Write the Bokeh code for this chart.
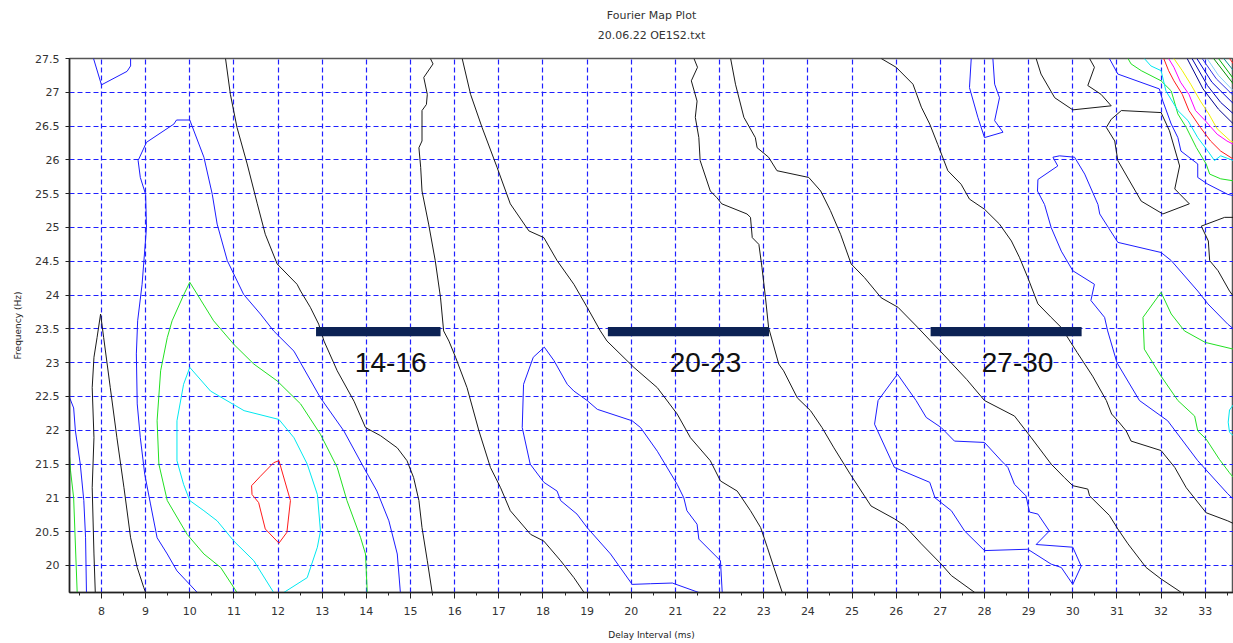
from bokeh.plotting import figure
from bokeh.models import FixedTicker, Range1d, CustomJSTickFormatter, Title
from bokeh.embed import file_html
from bokeh.resources import INLINE
from bokeh.core.properties import value

# ---------------- axis ticks ----------------
x_ticks = [8, 9, 10, 11, 12, 13, 14, 15, 16, 17, 18, 19, 20, 21, 22, 23, 24, 25,
           26, 27, 28, 29, 30, 31, 32, 33]
x_minor = [7.5, 8.5, 9.5, 10.5, 11.5, 12.5, 13.5, 14.5, 15.5, 16.5, 17.5, 18.5, 19.5,
           20.5, 21.5, 22.5, 23.5, 24.5, 25.5, 26.5, 27.5, 28.5, 29.5, 30.5, 31.5, 32.5, 33.5]
y_ticks = [20, 20.5, 21, 21.5, 22, 22.5, 23, 23.5, 24, 24.5, 25, 25.5, 26, 26.5, 27, 27.5]

# ---------------- contour lines (x = delay ms, y = frequency Hz) ----------------
# black (level 1)
blk1_x = [7.86, 7.83, 7.79, 7.83, 7.79, 7.83, 7.90, 7.98, 8.05, 8.20, 8.35, 8.51, 8.66, 8.81, 8.96, 9.0]
blk1_y = [19.6, 20.17, 21.15, 21.89, 22.63, 23.08, 23.37, 23.72, 23.37, 22.63, 21.89, 21.15, 20.41, 19.97, 19.67, 19.6]
blk2_x = [10.81, 10.92, 11.07, 11.30, 11.53, 11.71, 11.98, 12.43, 12.51, 12.73, 12.92, 13.04, 13.34,
          13.72, 13.98, 14.32, 14.70, 14.92, 15.07, 15.19, 15.26, 15.38, 15.49]
blk2_y = [27.5, 26.97, 26.48, 25.94, 25.35, 24.90, 24.46, 24.16, 24.06, 23.82, 23.57, 23.32, 22.88,
          22.43, 22.04, 21.92, 21.74, 21.55, 21.30, 20.96, 20.56, 20.07, 19.6]
blk3_x = [15.45, 15.51, 15.30, 15.38, 15.36, 15.26, 15.26, 15.19, 15.23, 15.26, 15.41, 15.56, 15.68,
          15.75, 15.87, 16.02, 16.28, 16.55, 16.81, 17.04, 17.26, 17.72, 18.02, 18.40, 18.70, 18.93]
blk3_y = [27.5, 27.42, 27.22, 26.97, 26.82, 26.73, 26.28, 26.18, 25.89, 25.54, 25.05, 24.51, 23.96,
          23.47, 23.32, 23.08, 22.63, 21.99, 21.45, 21.15, 20.81, 20.46, 20.36, 20.07, 19.82, 19.6]
blk4_x = [16.17, 16.36, 16.62, 16.96, 17.26, 17.68, 18.02, 18.32, 18.70, 19.0, 19.30, 19.45, 20.06,
          20.59, 21.04, 21.34, 21.79, 22.02, 22.40, 22.70, 22.93, 23.08, 23.23, 23.42]
blk4_y = [27.5, 26.97, 26.48, 25.89, 25.35, 24.95, 24.85, 24.51, 24.16, 23.82, 23.47, 23.32, 22.93,
          22.63, 22.24, 21.89, 21.55, 21.25, 21.10, 20.81, 20.56, 20.27, 19.97, 19.6]
blk5_x = [21.42, 21.50, 21.36, 21.49, 21.45, 21.53, 21.56, 21.79, 21.94, 22.05, 22.62, 22.70, 22.74,
          22.89, 22.96, 23.04, 23.11, 23.34, 23.45, 23.76, 24.06, 24.32, 24.59, 24.96, 25.43, 25.96,
          26.19, 26.57, 27.02, 27.25, 27.78]
blk5_y = [27.5, 27.37, 27.17, 26.87, 26.63, 26.33, 25.99, 25.54, 25.44, 25.35, 25.20, 25.15, 24.85,
          24.75, 24.41, 23.96, 23.52, 22.98, 22.88, 22.48, 22.29, 22.04, 21.74, 21.35, 20.88, 20.69,
          20.59, 20.32, 20.02, 19.85, 19.6]
blk6_x = [22.25, 22.36, 22.55, 22.81, 22.85, 23.11, 23.30, 24.02, 24.29, 24.51, 24.74, 24.98, 25.28,
          25.66, 26.04, 26.49, 27.1, 27.6, 28.0, 28.68, 29.06, 29.51, 29.81, 30.0, 30.34, 30.38, 30.83,
          31.02, 31.25, 31.66, 32.0, 32.46]
blk6_y = [27.5, 27.12, 26.63, 26.33, 26.18, 26.04, 25.84, 25.74, 25.54, 25.25, 24.90, 24.46, 24.26,
          23.96, 23.82, 23.52, 23.1, 22.75, 22.44, 22.21, 21.89, 21.5, 21.30, 21.18, 21.13, 21.03, 20.74,
          20.54, 20.32, 19.97, 19.80, 19.6]
blk7_x = [25.66, 26.0, 26.38, 26.57, 26.76, 26.94, 27.17, 27.47, 27.66, 28.0, 28.34, 28.61, 28.79,
          28.98, 29.21, 29.51, 29.74, 30.1, 30.45, 30.76, 30.88, 31.02, 31.21, 31.32, 32.0, 32.31, 32.57,
          33.02, 33.51, 33.64]
blk7_y = [27.5, 27.37, 27.12, 26.78, 26.53, 26.23, 25.84, 25.64, 25.42, 25.27, 25.05, 24.80, 24.56,
          24.26, 23.87, 23.67, 23.52, 23.15, 22.8, 22.44, 22.24, 22.14, 21.99, 21.84, 21.70, 21.45, 21.15,
          20.78, 20.66, 20.62]
blk8_x = [29.17, 29.28, 29.59, 30.0, 30.87, 30.64, 30.34, 30.49, 30.38]
blk8_y = [27.5, 27.27, 26.92, 26.74, 26.80, 26.97, 27.10, 27.37, 27.5]
blk9_x = [31.10, 32.0, 32.19, 32.42, 32.31, 32.64, 32.04, 31.55, 31.02, 30.95, 30.76, 30.87, 31.10]
blk9_y = [26.73, 26.70, 26.43, 25.91, 25.57, 25.35, 25.20, 25.39, 25.99, 26.28, 26.48, 26.6, 26.73]
blk10_x = [33.64, 33.44, 32.91, 33.07, 33.10, 33.29, 33.55, 33.64]
blk10_y = [25.15, 25.15, 25.02, 24.80, 24.51, 24.36, 24.06, 23.98]

# blue (level 2)
blu1_x = [7.82, 8.0, 8.58, 8.66, 8.66]
blu1_y = [27.5, 27.11, 27.31, 27.39, 27.5]
blu2_x = [7.28, 7.37, 7.41, 7.52, 7.60, 7.64, 7.66]
blu2_y = [22.48, 22.33, 21.99, 21.5, 20.96, 20.41, 19.6]
blu3_x = [10.17, 9.71, 9.49, 9.26, 9.11, 8.98, 8.88, 8.81, 8.79, 8.82, 8.92, 9.02, 9.0, 8.88, 8.83,
          9.02, 9.64, 9.70, 10.0, 10.32, 10.51, 10.62, 10.85, 11.22, 11.6, 11.9, 12.36, 12.96, 13.49,
          13.94, 14.24, 14.51, 14.70, 14.77]
blu3_y = [19.6, 19.92, 20.17, 20.41, 20.91, 21.35, 21.89, 22.39, 23.13, 23.62, 24.16, 25.0, 25.49,
          25.74, 25.99, 26.26, 26.53, 26.59, 26.59, 26.04, 25.49, 25.05, 24.51, 24.01, 23.72, 23.47,
          23.17, 22.48, 21.99, 21.45, 21.10, 20.66, 20.17, 19.6]
blu4_x = [21.53, 20.93, 20.44, 20.02, 19.53, 19.0, 18.77, 18.40, 18.32, 18.02, 17.71, 17.53, 17.56,
          17.78, 18.03, 18.25, 18.55, 18.70, 19.0, 19.23, 20.02, 20.21, 20.59, 21.04, 21.19, 21.26,
          21.49, 21.53, 22.02, 22.06]
blu4_y = [19.6, 19.74, 19.73, 19.72, 20.17, 20.56, 20.76, 20.96, 21.10, 21.23, 21.50, 22.04, 22.68,
          23.08, 23.23, 23.03, 22.68, 22.58, 22.44, 22.31, 22.14, 22.04, 21.69, 21.2, 21.0, 20.81,
          20.61, 20.39, 20.07, 19.6]
blu5_x = [27.70, 27.66, 27.85, 28.0, 28.42, 28.23, 28.34, 28.23, 28.19]
blu5_y = [27.5, 27.07, 26.63, 26.33, 26.41, 26.58, 26.92, 27.12, 27.5]
blu6_x = [26.03, 25.59, 25.51, 25.96, 26.76, 26.88, 27.25, 27.55, 28.0, 28.98, 29.51, 29.74, 30.0,
          30.19, 30.0, 29.17, 29.47, 29.21, 29.02, 28.94, 28.68, 28.53, 28.38, 28.0, 27.32, 27.02,
          26.68, 26.45, 26.03]
blu6_y = [22.83, 22.44, 22.09, 21.45, 21.23, 21.0, 20.81, 20.51, 20.22, 20.24, 20.02, 19.97, 19.72,
          19.99, 20.27, 20.31, 20.51, 20.76, 20.79, 21.03, 21.20, 21.45, 21.55, 21.82, 21.84, 22.04,
          22.19, 22.44, 22.83]
blu7_x = [33.64, 33.51, 32.83, 32.15, 31.51, 31.0, 30.79, 30.72, 30.41, 30.49, 30.0, 29.74, 29.51,
          29.36, 29.2, 29.21, 29.66, 29.55, 29.70, 30.04, 30.27, 30.57, 30.61, 31.02, 32.0, 32.23,
          32.83, 33.06, 33.51, 33.64]
blu7_y = [20.98, 21.06, 21.55, 22.14, 22.44, 23.0, 23.47, 23.67, 23.92, 24.16, 24.36, 24.65, 25.0,
          25.34, 25.54, 25.71, 25.91, 26.04, 26.06, 26.04, 25.79, 25.34, 25.2, 24.78, 24.63, 24.51,
          24.06, 23.87, 23.57, 23.5]
blu8_x = [30.83, 31.02, 31.96, 32.04, 32.23, 32.38, 32.45, 32.83, 32.83, 33.06, 33.51, 33.64]
blu8_y = [27.5, 27.27, 27.05, 26.87, 26.53, 26.33, 26.13, 25.94, 25.74, 25.64, 25.49, 25.47]

# green (level 3)
grn1_x = [7.28, 7.30, 7.37, 7.45]
grn1_y = [21.6, 21.40, 21.0, 19.6]
grn2_x = [11.07, 10.70, 10.32, 9.94, 9.49, 9.30, 9.26, 9.34, 9.49, 9.60, 9.86, 10.0, 10.54, 11.0,
          11.45, 11.98, 12.51, 12.96, 13.34, 13.56, 13.87, 13.98, 14.02]
grn2_y = [19.6, 19.97, 20.17, 20.46, 20.96, 21.50, 22.14, 22.88, 23.37, 23.62, 24.0, 24.19, 23.62,
          23.27, 22.98, 22.73, 22.39, 21.94, 21.45, 20.96, 20.41, 20.17, 19.6]
grn3_x = [31.25, 31.32, 31.55, 32.0, 32.23, 32.38, 32.57, 32.80, 33.02, 33.10, 33.35, 33.64]
grn3_y = [27.5, 27.42, 27.32, 27.17, 27.02, 26.68, 26.48, 26.18, 25.94, 25.79, 25.72, 25.69]
grn4_x = [33.64, 33.0, 32.53, 32.23, 32.0, 31.59, 31.62, 32.0, 32.38, 32.76, 32.83, 33.02, 33.32,
          33.55, 33.64]
grn4_y = [23.2, 23.3, 23.47, 23.72, 24.04, 23.67, 23.2, 22.8, 22.44, 22.21, 21.99, 21.87, 21.57,
          21.37, 21.3]

# cyan (level 4)
cyn1_x = [11.90, 11.45, 11.0, 10.62, 10.32, 10.0, 9.86, 9.71, 9.71, 9.86, 10.0, 10.47, 11.23, 12.02,
          12.36, 12.66, 12.89, 12.96, 12.89, 12.66, 12.13]
cyn1_y = [19.6, 20.07, 20.36, 20.66, 20.81, 20.96, 21.20, 21.55, 22.14, 22.68, 22.93, 22.58, 22.29,
          22.16, 21.89, 21.50, 21.05, 20.51, 20.27, 19.82, 19.6]
cyn2_x = [31.62, 31.77, 32.0, 32.11, 32.38, 32.61, 32.83, 33.06, 33.21, 33.35, 33.64]
cyn2_y = [27.5, 27.39, 27.32, 27.02, 26.73, 26.58, 26.33, 26.13, 25.99, 26.06, 25.99]
cyn3_x = [33.64, 33.55, 33.52, 33.55, 33.64]
cyn3_y = [22.38, 22.3, 22.12, 21.97, 21.92]

# red (level 5)
red1_x = [11.90, 12.02, 12.28, 12.2, 12.02, 11.71, 11.56, 11.41, 11.40, 11.60, 11.90]
red1_y = [21.52, 21.55, 20.96, 20.49, 20.33, 20.54, 20.93, 21.05, 21.18, 21.32, 21.52]
red2_x = [32.06, 32.17, 32.29, 32.48, 32.63, 32.89, 33.12, 33.35, 33.64]
red2_y = [27.5, 27.32, 27.17, 26.97, 26.73, 26.48, 26.28, 26.13, 26.01]

# magenta (level 6), yellow (level 7)
mag1_x = [32.17, 32.29, 32.44, 32.63, 32.78, 33.0, 33.27, 33.49, 33.64]
mag1_y = [27.5, 27.37, 27.15, 26.97, 26.73, 26.58, 26.38, 26.28, 26.23]
yel1_x = [32.29, 32.48, 32.67, 32.89, 33.08, 33.27, 33.57, 33.64]
yel1_y = [27.5, 27.32, 27.12, 26.87, 26.68, 26.46, 26.28, 26.26]

# higher levels crowded in the top-right corner
nv1_x = [32.59, 32.95, 33.3, 33.64]
nv1_y = [27.5, 27.05, 26.75, 26.53]
nv2_x = [32.70, 33.05, 33.35, 33.64]
nv2_y = [27.5, 27.1, 26.85, 26.68]
nv3_x = [32.81, 33.15, 33.64]
nv3_y = [27.5, 27.15, 26.83]
nv4_x = [32.93, 33.25, 33.64]
nv4_y = [27.5, 27.2, 26.95]
lb1_x = [33.04, 33.3, 33.64]
lb1_y = [27.5, 27.25, 27.02]
dg1_x = [33.19, 33.64]
dg1_y = [27.5, 27.12]
dg2_x = [33.30, 33.64]
dg2_y = [27.5, 27.2]
tl1_x = [33.42, 33.64]
tl1_y = [27.5, 27.32]
rd3_x = [33.55, 33.64]
rd3_y = [27.5, 27.42]

# ---------------- annotations ----------------
bar_left = [12.86, 19.47, 26.78]
bar_right = [15.68, 23.12, 30.2]
bar_y = [23.46, 23.46, 23.46]
label_x = [14.55, 21.68, 28.75]
label_y = [23.0, 23.0, 23.0]
label_text = ["14-16", "20-23", "27-30"]
title_main = "Fourier Map Plot"
title_sub = "20.06.22 OE1S2.txt"

FONT = "DejaVu Sans"

p = figure(width=1233, height=643, x_range=Range1d(7.276, 33.64), y_range=Range1d(19.6, 27.5),
           output_backend="svg", toolbar_location=None, title=None,
           min_border_left=69, min_border_right=0, min_border_top=58, min_border_bottom=51)
p.background_fill_color = "white"
p.border_fill_color = "white"
p.outline_line_color = "#555555"
p.outline_line_width = 1.5

# two-line title above the frame (a blank spacer title sits next to the frame)
p.add_layout(Title(text=" ", align="center", text_font=FONT, text_font_size="11px",
                   standoff=0), "above")
p.add_layout(Title(text=title_sub, align="center", text_font=FONT, text_font_size="11px",
                   text_font_style="normal", text_color="#333333", standoff=4), "above")
p.add_layout(Title(text=title_main, align="center", text_font=FONT, text_font_size="11px",
                   text_font_style="normal", text_color="#333333", standoff=6), "above")

p.xaxis.ticker = FixedTicker(ticks=x_ticks, minor_ticks=x_minor)
p.yaxis.ticker = FixedTicker(ticks=y_ticks, minor_ticks=[])
p.yaxis.formatter = CustomJSTickFormatter(code="return tick.toString();")
for ax in (p.xaxis[0], p.yaxis[0]):
    ax.axis_line_color = "#222222"
    ax.axis_line_width = 1.5
    ax.major_tick_line_color = "#222222"
    ax.minor_tick_line_color = "#222222"
    ax.major_tick_in = 0
    ax.minor_tick_in = 0
    ax.major_label_text_font = FONT
    ax.major_label_text_font_size = "11px"
    ax.major_label_text_color = "#333333"
    ax.axis_label_text_font = FONT
    ax.axis_label_text_font_size = "9px"
    ax.axis_label_text_font_style = "normal"
    ax.axis_label_text_color = "#222222"
p.xaxis.major_tick_out = 6
p.xaxis.minor_tick_out = 3
p.xaxis.major_label_standoff = 8
p.xaxis.axis_label = "Delay Interval (ms)"
p.xaxis.axis_label_standoff = 12
p.yaxis.major_tick_out = 4
p.yaxis.minor_tick_out = 0
p.yaxis.major_label_standoff = 6
p.yaxis.axis_label = "Frequency (Hz)"
p.yaxis.axis_label_standoff = 9

for g in (p.xgrid[0], p.ygrid[0]):
    g.grid_line_color = "#2020ff"
    g.grid_line_dash = "5 3"
    g.grid_line_width = 1.2

def draw(lines, color, width=1.0):
    p.multi_line(xs=[l[0] for l in lines], ys=[l[1] for l in lines], line_color=color,
                 line_width=width)

draw([(blk1_x, blk1_y), (blk2_x, blk2_y), (blk3_x, blk3_y), (blk4_x, blk4_y), (blk5_x, blk5_y),
      (blk6_x, blk6_y), (blk7_x, blk7_y), (blk8_x, blk8_y), (blk9_x, blk9_y), (blk10_x, blk10_y)],
     "#1a1a1a")
draw([(blu1_x, blu1_y), (blu2_x, blu2_y), (blu3_x, blu3_y), (blu4_x, blu4_y), (blu5_x, blu5_y),
      (blu6_x, blu6_y), (blu7_x, blu7_y), (blu8_x, blu8_y)], "#1c1cff")
draw([(grn1_x, grn1_y), (grn2_x, grn2_y), (grn3_x, grn3_y), (grn4_x, grn4_y)], "#22e022")
draw([(cyn1_x, cyn1_y), (cyn2_x, cyn2_y), (cyn3_x, cyn3_y)], "#00e8f0")
draw([(red1_x, red1_y), (red2_x, red2_y), (rd3_x, rd3_y)], "#ff1a1a")
draw([(mag1_x, mag1_y)], "#ff00ff")
draw([(yel1_x, yel1_y)], "#f0f000")
draw([(nv1_x, nv1_y)], "#00008f")
draw([(nv2_x, nv2_y)], "#0000b0")
draw([(nv3_x, nv3_y)], "#0000d0")
draw([(nv4_x, nv4_y)], "#3030e0")
draw([(lb1_x, lb1_y)], "#87cefa")
draw([(dg1_x, dg1_y)], "#008f00")
draw([(dg2_x, dg2_y)], "#00b000")
draw([(tl1_x, tl1_y)], "#008f8f")

p.hbar(y=bar_y, left=bar_left, right=bar_right, height=0.135, fill_color="#0c2254",
       line_color=None)
p.text(x=label_x, y=label_y, text=label_text, text_font=value("Liberation Sans"),
       text_font_size="28px", text_align="center", text_baseline="middle", text_color="#111111")

open("out.html", "w").write(file_html(p, INLINE))
